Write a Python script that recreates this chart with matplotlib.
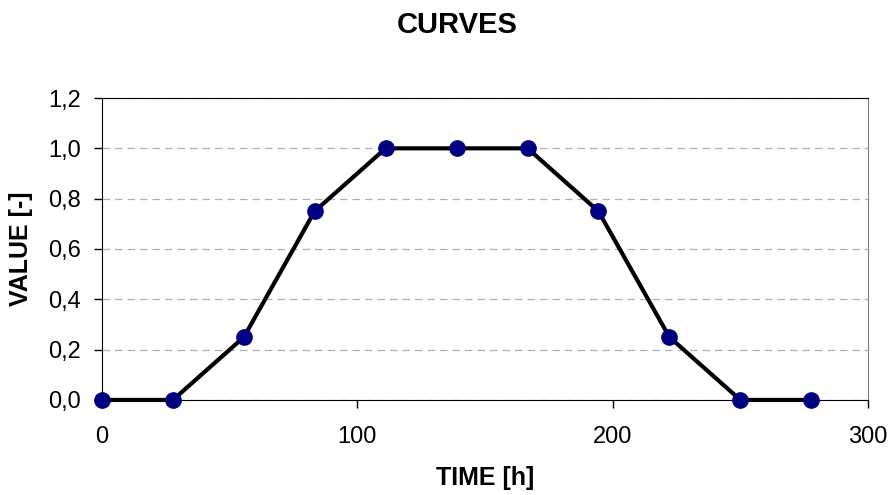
import matplotlib
matplotlib.use("Agg")
import matplotlib.pyplot as plt
from matplotlib.ticker import FuncFormatter

plt.rcParams['font.family'] = ['Liberation Sans', 'DejaVu Sans']

time_h = [0, 27.8, 55.6, 83.3, 111.1, 138.9, 166.7, 194.4, 222.2, 250.0, 277.8]
value = [0, 0, 0.25, 0.75, 1.0, 1.0, 1.0, 0.75, 0.25, 0, 0]

fig = plt.figure(figsize=(8.94, 4.95), dpi=100)
ax = fig.add_axes([0.114, 0.192, 0.857, 0.610])

ax.plot(time_h, value, color='black', lw=3, zorder=3, clip_on=False)
ax.plot(time_h, value, 'o', color='#000080', ms=11, zorder=4, clip_on=False)

ax.set_xlim(0, 300)
ax.set_ylim(0, 1.2)
ax.set_xticks([0, 100, 200, 300])
ax.set_yticks([0, 0.2, 0.4, 0.6, 0.8, 1.0, 1.2])
ax.yaxis.set_major_formatter(FuncFormatter(lambda v, p: f"{v:.1f}".replace('.', ',')))
ax.grid(axis='y', color='#b0b0b0', ls=(0, (6, 4)), lw=0.9)
ax.set_axisbelow(True)

for s in ['left', 'bottom', 'top']:
    ax.spines[s].set_color('black')
ax.spines['right'].set_color('#808080')
ax.tick_params(direction='out', length=6, labelsize=17, width=1)
ax.tick_params(axis='x', pad=13)
ax.tick_params(axis='y', pad=9)

ax.set_xlabel('TIME [h]', fontsize=18, fontweight='bold', va='center')
ax.xaxis.set_label_coords(0.5, -0.258)
ax.set_ylabel('VALUE [-]', fontsize=18, fontweight='bold', va='center')
ax.yaxis.set_label_coords(-0.105, 0.5)
fig.text(0.511, 0.949, 'CURVES', ha='center', va='center', fontsize=21, fontweight='bold')

fig.savefig('out.png', dpi=100)
